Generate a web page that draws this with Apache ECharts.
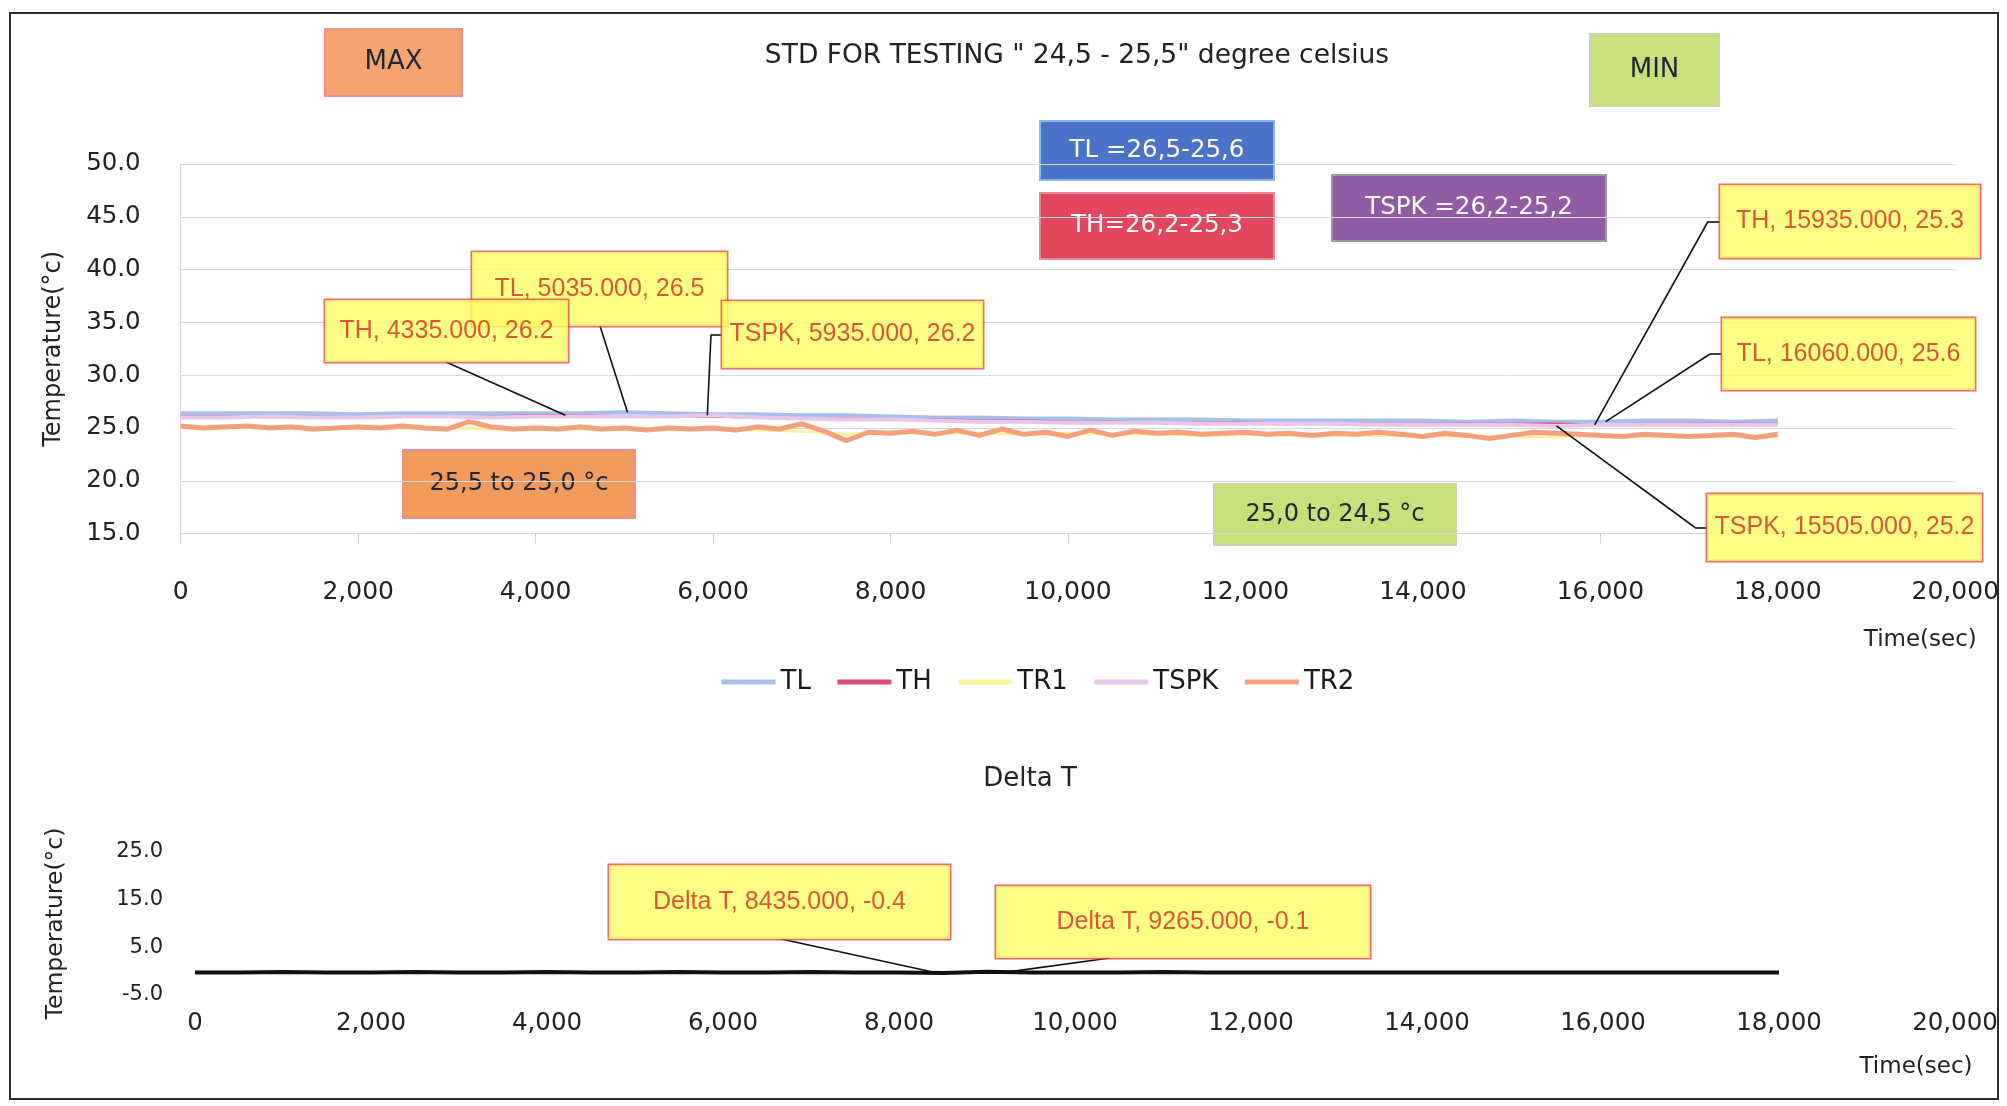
<!DOCTYPE html>
<html><head><meta charset="utf-8">
<script src="https://cdn.jsdelivr.net/npm/echarts@6/dist/echarts.min.js"></script>
<style>html,body{margin:0;padding:0;background:#fff}#c{width:2007px;height:1106px}</style>
</head><body><div id="c"></div>
<script>
// ---------- DATA ----------
const TIME_500 = [0,500,1000,1500,2000,2500,3000,3500,4000,4500,5000,5500,6000,6500,7000,7500,8000,8500,9000,9500,10000,10500,11000,11500,12000,12500,13000,13500,14000,14500,15000,15500,16000,16500,17000,17500,18000];
const TIME_250 = [0,250,500,750,1000,1250,1500,1750,2000,2250,2500,2750,3000,3250,3500,3750,4000,4250,4500,4750,5000,5250,5500,5750,6000,6250,6500,6750,7000,7250,7500,7750,8000,8250,8500,8750,9000,9250,9500,9750,10000,10250,10500,10750,11000,11250,11500,11750,12000,12250,12500,12750,13000,13250,13500,13750,14000,14250,14500,14750,15000,15250,15500,15750,16000,16250,16500,16750,17000,17250,17500,17750,18000];

const TL   = [26.4,26.4,26.4,26.4,26.3,26.4,26.4,26.4,26.4,26.4,26.5,26.4,26.3,26.3,26.2,26.2,26.1,26.0,26.0,25.9,25.9,25.8,25.8,25.8,25.7,25.7,25.7,25.7,25.7,25.6,25.7,25.6,25.6,25.7,25.7,25.6,25.7];
const TH   = [26.1,26.1,26.1,26.1,26.0,26.1,26.1,26.1,26.2,26.2,26.1,26.1,26.1,26.0,25.9,25.9,25.8,25.8,25.7,25.7,25.6,25.6,25.5,25.5,25.5,25.4,25.4,25.4,25.4,25.4,25.4,25.4,25.3,25.4,25.4,25.4,25.4];
const TR1  = [25.1,25.1,25.0,25.0,25.0,25.0,25.0,24.9,25.0,24.9,24.9,24.9,24.9,24.8,24.7,24.4,24.6,24.5,24.5,24.4,24.5,24.4,24.4,24.3,24.4,24.3,24.3,24.3,24.3,24.2,24.2,24.2,24.3,24.2,24.2,24.2,24.1];
const TSPK = [26.0,26.0,26.1,26.0,26.0,26.1,26.1,26.0,26.1,26.1,26.1,26.1,26.2,26.0,25.9,25.8,25.8,25.7,25.6,25.6,25.5,25.5,25.5,25.4,25.4,25.4,25.4,25.3,25.3,25.3,25.3,25.2,25.3,25.3,25.3,25.3,25.3];
const TR2  = [
  25.2,25.0,25.1,25.2,25.0,25.1,24.9,25.0,
  25.1,25.0,25.2,25.0,24.9,25.6,25.1,24.9,
  25.0,24.9,25.1,24.9,25.0,24.8,25.0,24.9,
  25.0,24.8,25.1,24.9,25.4,24.7,23.8,24.6,
  24.5,24.7,24.4,24.8,24.3,24.9,24.4,24.6,
  24.2,24.8,24.3,24.7,24.5,24.6,24.4,24.5,
  24.6,24.4,24.5,24.3,24.5,24.4,24.6,24.4,
  24.2,24.5,24.3,24.0,24.3,24.6,24.5,24.4,
  24.3,24.2,24.4,24.3,24.2,24.3,24.4,24.1,
  24.4];
const DELTA_T = [-0.3,-0.3,-0.2,-0.3,-0.3,-0.2,-0.3,-0.3,-0.2,-0.3,-0.3,-0.2,-0.3,-0.3,-0.2,-0.3,-0.3,-0.4,-0.1,-0.3,-0.3,-0.3,-0.2,-0.3,-0.3,-0.3,-0.3,-0.3,-0.3,-0.3,-0.3,-0.3,-0.3,-0.3,-0.3,-0.3,-0.3];

const SERIES_NAMES = ['TL','TH','TR1','TSPK','TR2'];

const CALL_UP_NAME  = ['TL','TH','TSPK','TH','TL','TSPK'];
const CALL_UP_TIME  = [5035,4335,5935,15935,16060,15505];
const CALL_UP_VALUE = [26.5,26.2,26.2,25.3,25.6,25.2];
const CALL_DN_NAME  = ['Delta T','Delta T'];
const CALL_DN_TIME  = [8435,9265];
const CALL_DN_VALUE = [-0.4,-0.1];

const TITLE_TOP = 'STD FOR TESTING " 24,5 - 25,5" degree celsius';
const TITLE_BOTTOM = 'Delta T';
const Y_NAME = 'Temperature(°c)';
const X_NAME = 'Time(sec)';

// ---------- LAYOUT (callout boxes, pixels) ----------
const BOX_UP = [
  {left:472, top:252, w:255, h:74, side:'bottom', ax:600},
  {left:325, top:300, w:243, h:62, side:'bottom', ax:446},
  {left:722, top:301, w:261, h:67, side:'left', ex:711},
  {left:1720, top:185, w:260, h:73, side:'left', ex:1708},
  {left:1722, top:318, w:253, h:72, side:'left', ex:1710},
  {left:1707, top:494, w:275, h:67, side:'left', ex:1695}
];
const BOX_DN = [
  {left:609, top:865, w:341, h:74, side:'bottom', ax:781},
  {left:996, top:886, w:374, h:72, side:'bottom', ax:1110}
];

const F = 'DejaVu Sans';
const CF = 'Liberation Sans';

const pair = (ts, vs) => ts.map((t, i) => [t, vs[i]]);

function calloutLayout(boxes) {
  return function (p) {
    const b = boxes[p.dataIndex];
    if (!b) return {};
    return {x: b.left + b.w / 2, y: b.top + b.h / 2, align: 'center', verticalAlign: 'middle'};
  };
}
function calloutData(names, ts, vs, boxes) {
  return ts.map((t, i) => ({
    name: names[i], value: [t, vs[i]],
    label: {width: boxes[i].w, height: boxes[i].h, lineHeight: boxes[i].h}
  }));
}
// leader lines: from the data point (library coords) to the box edge
function leaders(ts, vs, boxes) {
  const segs = [];
  ts.forEach((t, i) => {
    const b = boxes[i];
    const anchor = {coord: [t, vs[i]]};
    if (b.side === 'left') {
      const ey = b.top + b.h / 2;
      segs.push([anchor, {x: b.ex, y: ey}]);
      segs.push([{x: b.ex, y: ey}, {x: b.left, y: ey}]);
    } else {
      segs.push([anchor, {x: b.ax, y: b.top + b.h}]);
    }
  });
  return {
    silent: true, symbol: ['none', 'none'], label: {show: false},
    lineStyle: {color: '#111', width: 1.6, type: 'solid'},
    emphasis: {disabled: true}, animation: false, data: segs
  };
}
const calloutLabel = {
  show: true, position: 'top',
  formatter: p => p.name + ', ' + p.value[0].toFixed(3) + ', ' + p.value[1].toFixed(1),
  backgroundColor: '#FFFF66', borderColor: '#E2474F', borderWidth: 1.5,
  color: '#D42A1F', fontFamily: CF, fontSize: 25, padding: 0, align: 'center', overflow: 'none'
};

function box(x, y, w, h, fill, stroke, text, color, fs) {
  return {type: 'group', z: 5, silent: true, children: [
    {type: 'rect', shape: {x: x, y: y, width: w, height: h}, style: {fill: fill, stroke: stroke, lineWidth: 2}},
    {type: 'text', x: x + w / 2, y: y + h / 2,
     style: {text: text, fill: color, font: fs + 'px "DejaVu Sans"', align: 'center', verticalAlign: 'middle', textAlign: 'center', textVerticalAlign: 'middle'}}
  ]};
}

const COLORS = {TL: '#A3C0EA', TH: '#DC4C7C', TR1: '#FFF29C', TSPK: '#EAC4EA', TR2: '#F5A07C'};
const WIDTHS = {TL: 4, TH: 2.5, TR1: 3, TSPK: 4, TR2: 5};
const DATA_MAP = {
  TL: pair(TIME_500, TL), TH: pair(TIME_500, TH), TR1: pair(TIME_500, TR1),
  TSPK: pair(TIME_500, TSPK), TR2: pair(TIME_250, TR2)
};

const chart = echarts.init(document.getElementById('c'), null, {renderer: 'canvas'});

const option = {
  animation: false,
  backgroundColor: '#ffffff',
  title: [
    {text: TITLE_TOP, left: 1072, top: 38, textAlign: 'center',
     textStyle: {fontFamily: F, fontSize: 26.5, fontWeight: 'normal', color: '#222'}},
    {text: TITLE_BOTTOM, left: 1025, top: 761, textAlign: 'center',
     textStyle: {fontFamily: F, fontSize: 26, fontWeight: 'normal', color: '#222'}}
  ],
  legend: {
    data: SERIES_NAMES.map(n => ({name: n, itemStyle: {opacity: 0}, lineStyle: {width: 5, color: COLORS[n]}})),
    left: 714, top: 664, itemWidth: 54, itemHeight: 14, itemGap: 24,
    textStyle: {fontFamily: F, fontSize: 26, color: '#1a1a1a'}
  },
  grid: [
    {left: 180.7, right: 51.7, top: 164, bottom: 572.4, outerBoundsMode: 'none', containLabel: false},
    {left: 195, right: 52, top: 852, bottom: 111, outerBoundsMode: 'none', containLabel: false}
  ],
  xAxis: [
    {type: 'value', gridIndex: 0, min: 0, max: 20000, interval: 2000,
     name: X_NAME, nameLocation: 'end', nameGap: -35, nameMoveOverlap: false,
     nameTextStyle: {fontFamily: F, fontSize: 23, color: '#222', align: 'center', verticalAlign: 'top', padding: [95, 0, 0, 0]},
     axisLine: {show: true, lineStyle: {color: '#D9D9D9'}},
     axisTick: {show: true, length: 10, lineStyle: {color: '#D0D0D0'}},
     splitLine: {show: false},
     axisLabel: {margin: 46, fontFamily: F, fontSize: 25, color: '#222', formatter: v => v.toLocaleString('en-US')}},
    {type: 'value', gridIndex: 1, min: 0, max: 20000, interval: 2000,
     name: X_NAME, nameLocation: 'end', nameGap: -39, nameMoveOverlap: false,
     nameTextStyle: {fontFamily: F, fontSize: 23, color: '#222', align: 'center', verticalAlign: 'top', padding: [84, 0, 0, 0]},
     axisLine: {show: false}, axisTick: {show: false}, splitLine: {show: false},
     axisLabel: {margin: 16, fontFamily: F, fontSize: 24.5, color: '#222', formatter: v => v.toLocaleString('en-US')}}
  ],
  yAxis: [
    {type: 'value', gridIndex: 0, min: 15, max: 50, interval: 5,
     name: Y_NAME, nameLocation: 'middle', nameGap: 115, nameRotate: 90,
     nameTextStyle: {fontFamily: F, fontSize: 24, color: '#222'},
     axisLine: {show: true, lineStyle: {color: '#D9D9D9'}},
     axisTick: {show: false},
     splitLine: {show: true, lineStyle: {color: '#D9D9D9', width: 1}},
     axisLabel: {margin: 40, fontFamily: F, fontSize: 24.5, color: '#222', formatter: v => v.toFixed(1)}},
    {type: 'value', gridIndex: 1, min: -5, max: 25, interval: 10,
     name: Y_NAME, nameLocation: 'middle', nameGap: 127, nameRotate: 90,
     nameTextStyle: {fontFamily: F, fontSize: 23.5, color: '#222'},
     axisLine: {show: false}, axisTick: {show: false}, splitLine: {show: false},
     axisLabel: {margin: 32, fontFamily: F, fontSize: 21, color: '#222', formatter: v => v.toFixed(1)}}
  ],
  graphic: [
    {type: 'rect', z: 1, silent: true, shape: {x: 10, y: 13, width: 1988, height: 1086}, style: {fill: 'none', stroke: '#2b2b2b', lineWidth: 2}},
    box(325, 29, 137, 67, '#F4A46F', '#EE9090', 'MAX', '#1f2535', 26),
    box(1590, 34, 129, 72, '#C9E07D', '#C8D6A8', 'MIN', '#1f2535', 26),
    box(1040, 121, 234, 59, '#4A72C8', '#8CB4EC', 'TL =26,5-25,6', '#ffffff', 24.5),
    box(1040, 193, 234, 66, '#E2465C', '#E8889A', 'TH=26,2-25,3', '#ffffff', 24.5),
    box(1332, 175, 274, 66, '#8E5BA4', '#9A9A9A', 'TSPK =26,2-25,2', '#ffffff', 24.5),
    box(403, 450, 232, 68, '#F09A5C', '#EE9090', '25,5 to 25,0 °c', '#1f2535', 24),
    box(1214, 484, 242, 61, '#C6E07A', '#C8D6A8', '25,0 to 24,5 °c', '#1f2535', 24)
  ],
  series: SERIES_NAMES.map(n => ({
    name: n, type: 'line', xAxisIndex: 0, yAxisIndex: 0, data: DATA_MAP[n],
    symbol: 'none', showSymbol: false, smooth: false,
    lineStyle: {color: COLORS[n], width: WIDTHS[n]}, itemStyle: {color: COLORS[n]},
    silent: true
  })).concat([
    {name: 'Delta T', type: 'line', xAxisIndex: 1, yAxisIndex: 1, data: pair(TIME_500, DELTA_T),
     symbol: 'none', showSymbol: false, lineStyle: {color: '#111', width: 4}, itemStyle: {color: '#111'}, silent: true},
    {name: 'callUp', type: 'scatter', xAxisIndex: 0, yAxisIndex: 0, z: 10,
     symbolSize: 2, itemStyle: {color: 'rgba(0,0,0,0)'}, silent: true,
     data: calloutData(CALL_UP_NAME, CALL_UP_TIME, CALL_UP_VALUE, BOX_UP),
     label: calloutLabel, labelLine: {show: false},
     labelLayout: calloutLayout(BOX_UP),
     markLine: leaders(CALL_UP_TIME, CALL_UP_VALUE, BOX_UP)},
    {name: 'callDn', type: 'scatter', xAxisIndex: 1, yAxisIndex: 1, z: 10,
     symbolSize: 2, itemStyle: {color: 'rgba(0,0,0,0)'}, silent: true,
     data: calloutData(CALL_DN_NAME, CALL_DN_TIME, CALL_DN_VALUE, BOX_DN),
     label: calloutLabel, labelLine: {show: false},
     labelLayout: calloutLayout(BOX_DN),
     markLine: leaders(CALL_DN_TIME, CALL_DN_VALUE, BOX_DN)}
  ])
};
chart.setOption(option);
</script></body></html>
